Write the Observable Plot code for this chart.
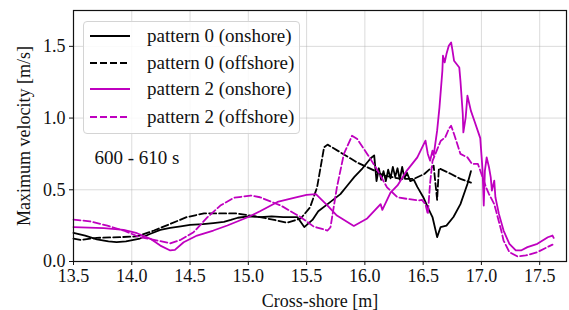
<!DOCTYPE html>
<html>
<head>
<meta charset="utf-8">
<script src="https://cdn.jsdelivr.net/npm/d3@7"></script>
<script src="https://cdn.jsdelivr.net/npm/@observablehq/plot@0.6"></script>
<style>
  html, body { margin: 0; padding: 0; background: #fff; }
  #wrap { position: relative; width: 569px; height: 310px; font-family: "Liberation Serif", "DejaVu Serif", serif; }
  #legend { position: absolute; left: 83px; top: 21px; width: 217px; height: 113px; box-sizing: border-box;
            border: 1px solid #d4d4d4; border-radius: 4px; background: rgba(255,255,255,0.85); }
  .row { position: absolute; left: 0; height: 26px; display: flex; align-items: center; }
  .row svg { margin-left: 5px; }
  .row span { margin-left: 16px; font-size: 19px; color: #111; white-space: nowrap; }
  #note { position: absolute; }
</style>
</head>
<body>
<div id="wrap"></div>
<script>
// ---- data ----
const xTicks = [13.5, 14.0, 14.5, 15.0, 15.5, 16.0, 16.5, 17.0, 17.5];
const yTicks = [0.0, 0.5, 1.0, 1.5];

const p0OnX = [13.5, 13.6, 13.7, 13.8, 13.87, 13.95, 14.07, 14.15, 14.245, 14.33, 14.42, 14.5, 14.61, 14.7, 14.79, 14.85, 14.91, 15.0, 15.1, 15.2, 15.3, 15.42, 15.48, 15.55, 15.6, 15.68, 15.79, 15.85, 15.91, 15.98, 16.05, 16.08, 16.1, 16.12, 16.14, 16.16, 16.18, 16.2, 16.22, 16.24, 16.26, 16.28, 16.3, 16.32, 16.34, 16.36, 16.39, 16.42, 16.45, 16.5, 16.55, 16.58, 16.6, 16.62, 16.65, 16.7, 16.76, 16.82, 16.88, 16.91];
const p0OnY = [0.20, 0.18, 0.155, 0.14, 0.135, 0.14, 0.16, 0.19, 0.22, 0.235, 0.245, 0.255, 0.26, 0.268, 0.277, 0.29, 0.305, 0.315, 0.31, 0.315, 0.31, 0.31, 0.24, 0.29, 0.35, 0.40, 0.47, 0.53, 0.59, 0.65, 0.72, 0.74, 0.56, 0.65, 0.57, 0.63, 0.56, 0.64, 0.58, 0.66, 0.59, 0.65, 0.57, 0.66, 0.58, 0.62, 0.56, 0.57, 0.52, 0.45, 0.36, 0.31, 0.24, 0.17, 0.24, 0.25, 0.31, 0.40, 0.54, 0.63];

const p0OffX = [13.5, 13.56, 13.7, 13.9, 14.045, 14.19, 14.33, 14.47, 14.62, 14.76, 14.9, 15.1, 15.25, 15.33, 15.45, 15.53, 15.59, 15.65, 15.68, 15.79, 15.935, 16.08, 16.16, 16.31, 16.42, 16.51, 16.59, 16.62, 16.635, 16.74, 16.82, 16.91];
const p0OffY = [0.16, 0.15, 0.165, 0.17, 0.175, 0.216, 0.262, 0.309, 0.336, 0.335, 0.335, 0.31, 0.285, 0.27, 0.30, 0.378, 0.517, 0.796, 0.815, 0.761, 0.69, 0.634, 0.60, 0.576, 0.576, 0.61, 0.668, 0.43, 0.65, 0.61, 0.576, 0.55];

const p2OnX = [13.5, 13.76, 13.93, 14.045, 14.16, 14.245, 14.33, 14.37, 14.445, 14.56, 14.7, 14.82, 15.0, 15.1, 15.25, 15.4, 15.5, 15.58, 15.68, 15.76, 15.905, 16.02, 16.135, 16.15, 16.22, 16.28, 16.36, 16.45, 16.52, 16.54, 16.56, 16.58, 16.59, 16.62, 16.64, 16.665, 16.67, 16.685, 16.7, 16.72, 16.74, 16.75, 16.765, 16.81, 16.82, 16.84, 16.845, 16.865, 16.88, 16.91, 16.94, 16.99, 17.01, 17.02, 17.03, 17.045, 17.065, 17.08, 17.09, 17.11, 17.12, 17.15, 17.19, 17.24, 17.295, 17.34, 17.395, 17.48, 17.57, 17.61, 17.62];
const p2OnY = [0.24, 0.232, 0.22, 0.197, 0.158, 0.111, 0.077, 0.081, 0.134, 0.181, 0.216, 0.251, 0.31, 0.35, 0.415, 0.445, 0.465, 0.47, 0.39, 0.32, 0.248, 0.30, 0.40, 0.36, 0.48, 0.53, 0.634, 0.726, 0.843, 0.75, 0.703, 0.773, 0.738, 0.912, 1.075, 1.33, 1.435, 1.388, 1.446, 1.504, 1.527, 1.481, 1.40, 1.353, 1.26, 1.028, 0.90, 1.005, 1.156, 1.05, 0.98, 0.86, 0.634, 0.39, 0.634, 0.726, 0.657, 0.587, 0.494, 0.564, 0.448, 0.332, 0.216, 0.123, 0.077, 0.077, 0.10, 0.123, 0.169, 0.181, 0.165];

const p2OffX = [13.5, 13.64, 13.79, 13.93, 14.07, 14.19, 14.33, 14.42, 14.53, 14.65, 14.76, 14.875, 15.02, 15.1, 15.28, 15.45, 15.56, 15.68, 15.705, 15.76, 15.82, 15.89, 15.935, 16.02, 16.11, 16.19, 16.28, 16.36, 16.46, 16.49, 16.52, 16.54, 16.56, 16.58, 16.62, 16.65, 16.69, 16.72, 16.74, 16.765, 16.82, 16.88, 16.92, 16.97, 16.99, 17.04, 17.065, 17.11, 17.14, 17.17, 17.19, 17.24, 17.31, 17.38, 17.48, 17.61];
const p2OffY = [0.292, 0.28, 0.25, 0.216, 0.169, 0.151, 0.127, 0.151, 0.204, 0.309, 0.39, 0.444, 0.46, 0.448, 0.39, 0.309, 0.244, 0.216, 0.239, 0.517, 0.75, 0.877, 0.854, 0.75, 0.634, 0.517, 0.448, 0.437, 0.425, 0.43, 0.40, 0.33, 0.55, 0.70, 0.78, 0.84, 0.866, 0.924, 0.947, 0.889, 0.75, 0.726, 0.68, 0.68, 0.634, 0.517, 0.47, 0.40, 0.309, 0.216, 0.146, 0.065, 0.035, 0.042, 0.065, 0.118];

const seriesNames = ["pattern 0 (onshore)", "pattern 0 (offshore)", "pattern 2 (onshore)", "pattern 2 (offshore)"];
const seriesColors = ["#000000", "#000000", "#bf00bf", "#bf00bf"];
const seriesDashed = [false, true, false, true];
const noteText = ["600 - 610 s"];
const noteX = [13.68];
const noteY = [0.72];

// ---- build table ----
const xs = [p0OnX, p0OffX, p2OnX, p2OffX];
const ys = [p0OnY, p0OffY, p2OnY, p2OffY];
const rows = [];
xs.forEach((xa, i) => xa.forEach((x, j) => rows.push({series: seriesNames[i], x, y: ys[i][j]})));

const colorScale = {domain: seriesNames, range: seriesColors};
const lineMarks = seriesNames.map((name, i) => Plot.line(rows.filter(r => r.series === name), {
  x: "x", y: "y", stroke: seriesColors[i], strokeWidth: 1.8,
  strokeDasharray: seriesDashed[i] ? "7,3" : null, strokeLinejoin: "round", curve: "linear"
}));

const fmt = d => d.toFixed(1);
const chart = Plot.plot({
  width: 569, height: 310,
  marginLeft: 73, marginRight: 3, marginTop: 10, marginBottom: 49,
  style: {fontFamily: "'Liberation Serif', 'DejaVu Serif', serif", fontSize: "18px", color: "#111", background: "#fff"},
  x: {domain: [13.5, 17.73]},
  y: {domain: [0, 1.75]},
  marks: [
    Plot.gridX(xTicks, {stroke: "#b0b0b0", strokeOpacity: 0.45, strokeWidth: 1}),
    Plot.gridY(yTicks, {stroke: "#b0b0b0", strokeOpacity: 0.45, strokeWidth: 1}),
    ...lineMarks,
    Plot.text(noteText, {x: noteX, y: noteY, text: d => d, textAnchor: "start", fontSize: 19, fill: "#111"}),
    Plot.axisX(xTicks, {tickFormat: fmt, tickSize: 4, tickPadding: 4, fontSize: 18, label: "Cross-shore [m]", labelAnchor: "center", labelArrow: "none", labelOffset: 45}),
    Plot.axisY(yTicks, {tickFormat: fmt, tickSize: 4, tickPadding: 4, fontSize: 18, label: "Maximum velocity [m/s]", labelAnchor: "center", labelArrow: "none", labelOffset: 56}),
    Plot.frame({stroke: "#111", strokeWidth: 1.2})
  ]
});

const wrap = document.getElementById("wrap");
wrap.appendChild(chart);
chart.style.position = "absolute"; chart.style.left = "0"; chart.style.top = "0";

// legend overlay
const legend = document.createElement("div");
legend.id = "legend";
seriesNames.forEach((name, i) => {
  const row = document.createElement("div");
  row.className = "row";
  row.style.top = [1, 27.5, 54, 81.5][i] + "px";
  const ns = "http://www.w3.org/2000/svg";
  const s = document.createElementNS(ns, "svg");
  s.setAttribute("width", "42"); s.setAttribute("height", "10");
  const l = document.createElementNS(ns, "line");
  l.setAttribute("x1", "1"); l.setAttribute("x2", "41"); l.setAttribute("y1", "5"); l.setAttribute("y2", "5");
  l.setAttribute("stroke", seriesColors[i]); l.setAttribute("stroke-width", "1.8");
  if (seriesDashed[i]) l.setAttribute("stroke-dasharray", "7,3");
  s.appendChild(l);
  const t = document.createElement("span");
  t.textContent = name;
  row.appendChild(s); row.appendChild(t);
  legend.appendChild(row);
});
wrap.appendChild(legend);
</script>
</body>
</html>
